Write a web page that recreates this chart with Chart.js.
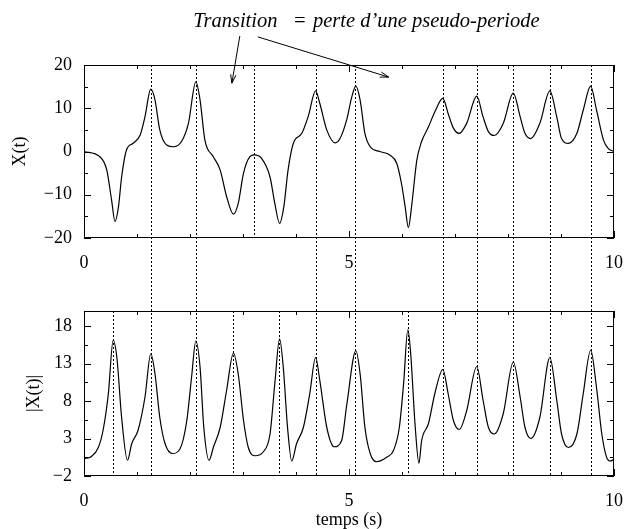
<!DOCTYPE html>
<html>
<head>
<meta charset="utf-8">
<script src="https://cdn.jsdelivr.net/npm/chart.js@4.4.0/dist/chart.umd.min.js"></script>
<style>
	body { margin: 0; background: #fff; }
	#wrap { position: relative; width: 626px; height: 529px; }
	#wrap canvas { position: absolute; left: 0; }
</style>
</head>
<body>
<div id="wrap">
	<canvas id="top-chart" width="626" height="311" style="top:0"></canvas>
	<canvas id="bottom-chart" width="626" height="224" style="top:305px"></canvas>
</div>
<script>
// top panel: X(t)
const timeTop = [0, 0.3, 0.43, 0.52, 0.585, 0.65, 0.71, 0.8, 0.93, 1.06, 1.15, 1.26, 1.34, 1.43, 1.56, 1.69, 1.84, 1.97, 2.11, 2.19, 2.28, 2.44, 2.57, 2.69, 2.82, 2.91, 3.01, 3.13, 3.21, 3.35, 3.51, 3.6, 3.69, 3.77, 3.85, 3.95, 4.11, 4.23, 4.37, 4.45, 4.58, 4.74, 4.83, 4.96, 5.05, 5.13, 5.21, 5.3, 5.4, 5.58, 5.77, 5.9, 5.99, 6.06, 6.12, 6.18, 6.28, 6.37, 6.5, 6.62, 6.77, 6.87, 6.97, 7.08, 7.22, 7.41, 7.53, 7.63, 7.74, 7.91, 8.1, 8.23, 8.32, 8.43, 8.6, 8.79, 8.92, 9.01, 9.14, 9.3, 9.42, 9.56, 9.67, 9.8, 9.89, 10]
const xTop = [0, -1.2, -4.3, -11.2, -16.2, -12.8, -5.9, 0.3, 1.9, 3.8, 8, 14.4, 11.9, 5, 1.5, 1.1, 2.3, 6.5, 16.1, 11.9, 2.7, -1.2, -4.3, -10.4, -14.5, -12, -5, -1.2, -0.8, -1.6, -5.9, -12, -16.6, -12.8, -4.3, 1.9, 4.2, 8.1, 14, 11.1, 5, 2, 3, 7.5, 12.5, 15.1, 11.9, 4.2, 1.1, 0, -0.8, -2.7, -7.4, -12.8, -17.6, -12.8, -2, 2.3, 5.7, 9.2, 12.3, 8.8, 5.4, 4.2, 6.5, 12.8, 8, 4.6, 3.7, 6.5, 13.5, 8, 4.2, 3, 6.5, 14, 8, 3, 1.9, 4.2, 9.6, 15.1, 9.6, 2.7, 0.7, 0]

// bottom panel: |X(t)|
const timeBottom = [0, 0.14, 0.27, 0.36, 0.46, 0.55, 0.62, 0.71, 0.82, 0.9, 1.02, 1.15, 1.26, 1.34, 1.43, 1.53, 1.67, 1.81, 1.94, 2.03, 2.11, 2.19, 2.26, 2.36, 2.44, 2.57, 2.69, 2.82, 2.91, 3.01, 3.1, 3.23, 3.38, 3.51, 3.6, 3.69, 3.76, 3.84, 3.92, 4.01, 4.14, 4.26, 4.37, 4.45, 4.58, 4.72, 4.86, 4.96, 5.13, 5.21, 5.3, 5.4, 5.52, 5.71, 5.84, 5.95, 6.03, 6.11, 6.16, 6.25, 6.32, 6.37, 6.5, 6.62, 6.77, 6.87, 6.97, 7.08, 7.22, 7.41, 7.53, 7.63, 7.74, 7.91, 8.1, 8.23, 8.32, 8.43, 8.6, 8.79, 8.92, 9.01, 9.14, 9.3, 9.42, 9.56, 9.67, 9.77, 9.86, 9.93, 10]
const absBottom = [0.3, 0.6, 1.8, 4.1, 9, 16.1, 13.8, 5.8, 0.1, 2.3, 4.1, 8.5, 14.3, 11.6, 5.8, 2.3, 1, 1.6, 5.4, 11.2, 16, 12.5, 4.5, 0.1, 1.8, 4.5, 9.4, 14.4, 11.6, 5.4, 1.8, 0.7, 1.2, 3.6, 10.3, 16.3, 12.5, 4.5, 0, 2.3, 4.5, 9, 13.8, 10.7, 4.5, 1.9, 2.7, 7.6, 14.7, 11.6, 4.5, 1, -0.1, 0.5, 1.4, 4.5, 10.3, 17.5, 14.7, 4.5, -0.3, 2.7, 5, 9, 12.2, 9, 5.4, 4.2, 6.7, 12.6, 8.1, 4.5, 3.6, 6.3, 13.2, 8.5, 4.5, 3, 5.8, 13.8, 8.1, 3.6, 1.8, 3.6, 9, 14.8, 9.8, 3.6, 0.5, 0, 0.2]

// dotted markers (s)
const sharedMarks = [1.26, 2.11, 4.38, 5.11, 6.77, 7.42, 8.09, 8.79, 9.57]
const topMarks = [3.21]
const bottomMarks = [0.55, 2.81, 3.68, 6.11]

// ticks
const xTicks = [0, 1, 2, 3, 4, 5, 6, 7, 8, 9, 10]
const xLabels = [0, 5, 10]
const topYTicks = [-20, -15, -10, -5, 0, 5, 10, 15, 20]
const topYLabels = [-20, -10, 0, 10, 20]
const bottomYTicks = [-2, 0.5, 3, 5.5, 8, 10.5, 13, 15.5, 18]
const bottomYLabels = [-2, 3, 8, 13, 18]

const fmt = v => (v < 0 ? '\u2212' + Math.abs(v) : String(v))

Chart.defaults.font.family = "'Liberation Serif', 'Times New Roman', serif"
Chart.defaults.font.size = 18
Chart.defaults.color = '#000'

const frame = {
	id: 'frame',
	afterDraw(chart, args, opts) {
		const { ctx, chartArea: a, scales: { x, y } } = chart
		ctx.save()
		ctx.strokeStyle = '#000'
		ctx.lineWidth = 1
		ctx.strokeRect(a.left + 0.5, a.top + 0.5, a.right - a.left - 1, a.bottom - a.top - 1)
		ctx.beginPath()
		y.ticks.forEach(t => {
			const py = Math.round(y.getPixelForValue(t.value)) + 0.5
			const len = t.label ? 7 : 4
			ctx.moveTo(a.left, py)
			ctx.lineTo(a.left + len, py)
			ctx.moveTo(a.right, py)
			ctx.lineTo(a.right - len, py)
		})
		x.ticks.forEach(t => {
			const px = Math.round(x.getPixelForValue(t.value)) + 0.5
			const len = t.label ? 7 : 4
			ctx.moveTo(px, a.bottom)
			ctx.lineTo(px, a.bottom - len)
			ctx.moveTo(px, a.top)
			ctx.lineTo(px, a.top + len)
		})
		ctx.stroke()

		// dotted pseudo-period markers
		ctx.setLineDash([2, 2])
		ctx.beginPath()
		const mark = (t, y0, y1) => {
			const px = Math.round(x.getPixelForValue(t)) + 0.5
			ctx.moveTo(px, y0)
			ctx.lineTo(px, y1)
		}
		opts.shared.forEach(t => (opts.upward ? mark(t, 0, a.bottom) : mark(t, a.top, chart.height)))
		opts.own.forEach(t => mark(t, a.top, a.bottom))
		ctx.stroke()
		ctx.setLineDash([])

		if (opts.note) {
			ctx.font = "italic 20.5px 'Liberation Serif', serif"
			ctx.fillStyle = '#000'
			ctx.textBaseline = 'alphabetic'
			opts.note.texts.forEach(n => {
				ctx.fillText(n.text, x.getPixelForValue(n.t), y.getPixelForValue(n.v))
			})
			opts.note.arrows.forEach(ar => {
				const x0 = x.getPixelForValue(ar[0]), y0 = y.getPixelForValue(ar[1])
				const x1 = x.getPixelForValue(ar[2]), y1 = y.getPixelForValue(ar[3])
				const ang = Math.atan2(y1 - y0, x1 - x0)
				ctx.beginPath()
				ctx.moveTo(x0, y0)
				ctx.lineTo(x1, y1)
				ctx.moveTo(x1 - 9 * Math.cos(ang - 0.3), y1 - 9 * Math.sin(ang - 0.3))
				ctx.lineTo(x1, y1)
				ctx.lineTo(x1 - 9 * Math.cos(ang + 0.3), y1 - 9 * Math.sin(ang + 0.3))
				ctx.stroke()
			})
		}
		ctx.restore()
	}
}

const noPad = s => {
	s.paddingTop = 0
	s.paddingBottom = 0
	s.paddingLeft = 0
	s.paddingRight = 0
}

const panel = (id, times, values, opts) => {
	new Chart(id, {
		type: 'line',
		data: {
			datasets: [
				{
					data: times.map((t, i) => ({ x: t, y: values[i] })),
					borderColor: '#000',
					borderWidth: 1.2,
					pointRadius: 0,
					cubicInterpolationMode: 'monotone',
					fill: false
				}
			]
		},
		options: {
			responsive: false,
			animation: false,
			devicePixelRatio: 1,
			layout: { autoPadding: false, padding: opts.padding },
			plugins: {
				legend: { display: false },
				tooltip: { enabled: false },
				frame: opts.frame
			},
			scales: {
				x: {
					type: 'linear',
					min: 0,
					max: 10,
					afterBuildTicks: s => {
						s.ticks = xTicks.map(v => ({ value: v }))
					},
					afterFit: s => {
						s.height = opts.xHeight
						noPad(s)
					},
					grid: { display: false },
					border: { display: false },
					ticks: {
						padding: 6,
						maxRotation: 0,
						autoSkip: false,
						callback: v => (xLabels.includes(v) ? fmt(v) : '')
					},
					title: {
						display: !!opts.xTitle,
						text: opts.xTitle,
						font: { size: 18, lineHeight: 1 },
						padding: { top: 0, bottom: 0 }
					}
				},
				y: {
					min: opts.yMin,
					max: opts.yMax,
					afterBuildTicks: s => {
						s.ticks = opts.yTicks.map(v => ({ value: v }))
					},
					afterFit: s => {
						s.width = 84
						noPad(s)
					},
					grid: { display: false },
					border: { display: false },
					ticks: {
						padding: 4,
						autoSkip: false,
						callback: v => (opts.yLabels.includes(v) ? fmt(v) : '')
					},
					title: {
						display: true,
						text: opts.yTitle,
						font: { size: 18 },
						padding: { top: opts.yTitlePad, bottom: 0 }
					}
				}
			}
		},
		plugins: [frame]
	})
}

panel('top-chart', timeTop, xTop, {
	padding: { left: 0, right: 12, top: 65, bottom: 23 },
	xHeight: 50,
	yMin: -20,
	yMax: 20,
	yTicks: topYTicks,
	yLabels: topYLabels,
	yTitle: 'X(t)',
	yTitlePad: 9,
	frame: {
		shared: sharedMarks,
		own: topMarks,
		upward: false,
		note: {
			texts: [
				{ text: 'Transition', t: 2.06, v: 28.8 },
				{ text: '=', t: 3.94, v: 28.8 },
				{ text: 'perte d\u2019une pseudo-periode', t: 4.32, v: 28.8 }
			],
			arrows: [
				[2.94, 26.7, 2.79, 15.8],
				[3.28, 26.5, 5.75, 17.2]
			]
		}
	}
})

panel('bottom-chart', timeBottom, absBottom, {
	padding: { left: 0, right: 12, top: 6, bottom: 0 },
	xHeight: 53,
	xTitle: 'temps (s)',
	yMin: -2,
	yMax: 20,
	yTicks: bottomYTicks,
	yLabels: bottomYLabels,
	yTitle: '|X(t)|',
	yTitlePad: 23,
	frame: {
		shared: sharedMarks,
		own: bottomMarks,
		upward: true
	}
})
</script>
</body>
</html>
